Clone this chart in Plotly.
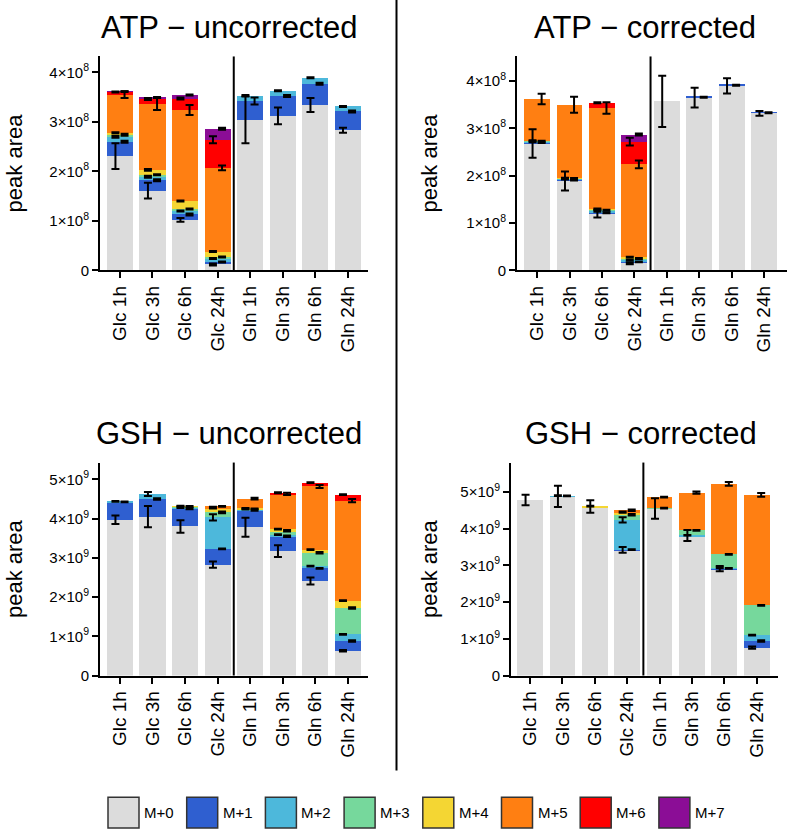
import numpy as np
import plotly.graph_objects as go

# ---------------- data ----------------
SAMPLES = ["Glc 1h", "Glc 3h", "Glc 6h", "Glc 24h", "Gln 1h", "Gln 3h", "Gln 6h", "Gln 24h"]
ISOTOPOLOGUES = ["M+0", "M+1", "M+2", "M+3", "M+4", "M+5", "M+6", "M+7"]
COLORS = ["#DCDCDC", "#2F5FD0", "#4DB8DB", "#76D89C", "#F4D633", "#FF7F12", "#FF0000", "#8B0D96"]

# rows = isotopologue (M+0..M+7), columns = samples; ATP in units of 1e8
ATP_UNCORR = [
    [2.31, 1.61, 1.02, 0.12, 3.04, 3.12, 3.34, 2.83],
    [0.29, 0.21, 0.11, 0.05, 0.38, 0.40, 0.43, 0.38],
    [0.10, 0.07, 0.07, 0.07, 0.11, 0.11, 0.12, 0.10],
    [0.04, 0.04, 0.04, 0.03, 0.00, 0.00, 0.00, 0.00],
    [0.04, 0.10, 0.16, 0.11, 0.00, 0.00, 0.00, 0.00],
    [0.77, 1.33, 1.84, 1.69, 0.00, 0.00, 0.00, 0.00],
    [0.05, 0.10, 0.23, 0.57, 0.00, 0.00, 0.00, 0.00],
    [0.01, 0.03, 0.07, 0.22, 0.00, 0.00, 0.00, 0.00],
]
ATP_UNCORR_ERR = [
    [0.26, 0.16, 0.04, 0.02, 0.47, 0.17, 0.14, 0.05],
    [0.02, 0.02, 0.02, 0.01, 0.07, 0.02, 0.02, 0.02],
    [0.02, 0.02, 0.01, 0.01, 0.01, 0.01, 0.01, 0.01],
    [0.02, 0.01, 0.01, 0.01, 0.00, 0.00, 0.00, 0.00],
    [0.01, 0.02, 0.01, 0.01, 0.00, 0.00, 0.00, 0.00],
    [0.07, 0.12, 0.10, 0.05, 0.00, 0.00, 0.00, 0.00],
    [0.01, 0.02, 0.02, 0.07, 0.00, 0.00, 0.00, 0.00],
    [0.01, 0.01, 0.01, 0.02, 0.00, 0.00, 0.00, 0.00],
]

ATP_CORR = [
    [2.68, 1.89, 1.20, 0.15, 3.57, 3.65, 3.90, 3.32],
    [0.02, 0.02, 0.02, 0.03, 0.00, 0.01, 0.01, 0.01],
    [0.02, 0.02, 0.03, 0.04, 0.00, 0.00, 0.00, 0.00],
    [0.01, 0.01, 0.02, 0.03, 0.00, 0.00, 0.00, 0.00],
    [0.01, 0.01, 0.03, 0.03, 0.00, 0.00, 0.00, 0.00],
    [0.88, 1.55, 2.13, 1.96, 0.00, 0.00, 0.00, 0.00],
    [0.00, 0.00, 0.11, 0.48, 0.00, 0.00, 0.00, 0.00],
    [0.00, 0.00, 0.00, 0.15, 0.00, 0.00, 0.00, 0.00],
]
ATP_CORR_ERR = [
    [0.30, 0.20, 0.08, 0.02, 0.54, 0.21, 0.16, 0.05],
    [0.01, 0.01, 0.01, 0.01, 0.00, 0.01, 0.01, 0.01],
    [0.01, 0.01, 0.01, 0.01, 0.00, 0.00, 0.00, 0.00],
    [0.01, 0.01, 0.01, 0.01, 0.00, 0.00, 0.00, 0.00],
    [0.01, 0.01, 0.01, 0.01, 0.00, 0.00, 0.00, 0.00],
    [0.11, 0.17, 0.12, 0.08, 0.00, 0.00, 0.00, 0.00],
    [0.00, 0.00, 0.01, 0.08, 0.00, 0.00, 0.00, 0.00],
    [0.00, 0.00, 0.00, 0.02, 0.00, 0.00, 0.00, 0.00],
]

# GSH in units of 1e9
GSH_UNCORR = [
    [3.97, 4.05, 3.80, 2.83, 3.78, 3.17, 2.41, 0.63],
    [0.46, 0.45, 0.46, 0.40, 0.44, 0.38, 0.32, 0.25],
    [0.01, 0.13, 0.03, 0.80, 0.02, 0.04, 0.06, 0.17],
    [0.00, 0.00, 0.02, 0.13, 0.01, 0.10, 0.34, 0.67],
    [0.00, 0.00, 0.01, 0.12, 0.01, 0.04, 0.08, 0.19],
    [0.00, 0.00, 0.00, 0.03, 0.25, 0.90, 1.61, 2.55],
    [0.00, 0.00, 0.00, 0.00, 0.00, 0.03, 0.10, 0.15],
    [0.00, 0.00, 0.00, 0.00, 0.00, 0.00, 0.00, 0.00],
]
GSH_UNCORR_ERR = [
    [0.11, 0.27, 0.16, 0.08, 0.24, 0.15, 0.09, 0.02],
    [0.01, 0.02, 0.02, 0.01, 0.02, 0.02, 0.01, 0.02],
    [0.01, 0.05, 0.02, 0.08, 0.01, 0.01, 0.01, 0.01],
    [0.00, 0.00, 0.01, 0.02, 0.01, 0.02, 0.02, 0.02],
    [0.00, 0.00, 0.01, 0.02, 0.01, 0.01, 0.01, 0.01],
    [0.00, 0.00, 0.00, 0.01, 0.02, 0.03, 0.04, 0.04],
    [0.00, 0.00, 0.00, 0.00, 0.00, 0.01, 0.01, 0.01],
    [0.00, 0.00, 0.00, 0.00, 0.00, 0.00, 0.00, 0.00],
]

GSH_CORR = [
    [4.78, 4.88, 4.60, 3.42, 4.55, 3.81, 2.91, 0.76],
    [0.00, 0.01, 0.00, 0.01, 0.00, 0.00, 0.01, 0.18],
    [0.00, 0.01, 0.00, 0.81, 0.00, 0.01, 0.01, 0.16],
    [0.00, 0.00, 0.00, 0.14, 0.01, 0.13, 0.37, 0.81],
    [0.00, 0.00, 0.01, 0.07, 0.00, 0.00, 0.00, 0.00],
    [0.00, 0.00, 0.00, 0.05, 0.30, 1.03, 1.92, 3.01],
    [0.00, 0.00, 0.00, 0.00, 0.00, 0.00, 0.00, 0.00],
    [0.00, 0.00, 0.00, 0.00, 0.00, 0.00, 0.00, 0.00],
]
GSH_CORR_ERR = [
    [0.14, 0.29, 0.17, 0.08, 0.28, 0.15, 0.07, 0.03],
    [0.00, 0.01, 0.00, 0.01, 0.00, 0.00, 0.01, 0.02],
    [0.00, 0.01, 0.00, 0.07, 0.00, 0.01, 0.01, 0.01],
    [0.00, 0.00, 0.00, 0.02, 0.01, 0.01, 0.01, 0.01],
    [0.00, 0.00, 0.01, 0.02, 0.00, 0.00, 0.00, 0.00],
    [0.00, 0.00, 0.00, 0.02, 0.01, 0.03, 0.05, 0.05],
    [0.00, 0.00, 0.00, 0.00, 0.00, 0.00, 0.00, 0.00],
    [0.00, 0.00, 0.00, 0.00, 0.00, 0.00, 0.00, 0.00],
]

TITLES = ["ATP − uncorrected", "ATP − corrected", "GSH − uncorrected", "GSH − corrected"]
SCALES = [1e8, 1e8, 1e9, 1e9]
EXPONENTS = [8, 8, 9, 9]
TICK_MULTIPLES = [[0, 1, 2, 3, 4], [0, 1, 2, 3, 4], [0, 1, 2, 3, 4, 5], [0, 1, 2, 3, 4, 5]]

# ---------------- layout geometry (pixels) ----------------
W, H = 787, 840
FONT = "Liberation Sans, Arial, Helvetica, sans-serif"
# (x_left, x_right, y_top, y_bottom) in px
PANEL_PX = [(100, 368, 57, 273), (517, 787, 57, 273), (100, 368, 467, 682), (511, 778, 467, 682)]
XRANGES = [(-0.615, 7.63), (-0.62, 7.71), (-0.615, 7.63), (-0.59, 7.66)]
YTOPS = [4.32, 4.52, 5.43, 5.80]
TITLE_X = [229, 645, 229, 641]
TITLE_Y = [27.5, 27.5, 437.5, 437.5]
YLAB_X = [14, 429, 14, 429]


def px(x):
    return x / W


def py(y):
    return 1 - y / H


fig = go.Figure()
idx = np.arange(len(SAMPLES))
datasets = [(ATP_UNCORR, ATP_UNCORR_ERR), (ATP_CORR, ATP_CORR_ERR),
            (GSH_UNCORR, GSH_UNCORR_ERR), (GSH_CORR, GSH_CORR_ERR)]

layout_axes = {}
shapes = []
annotations = []

for p, (vals, errs) in enumerate(datasets):
    vals = np.array(vals, dtype=float)
    errs = np.array(errs, dtype=float)
    scale = SCALES[p]
    xa = "x" if p == 0 else f"x{p+1}"
    ya = "y" if p == 0 else f"y{p+1}"
    cum = np.cumsum(vals, axis=0)
    for i, iso in enumerate(ISOTOPOLOGUES):
        fig.add_trace(go.Bar(
            x=idx, y=vals[i] * scale, name=iso, marker=dict(color=COLORS[i], line=dict(width=0)),
            width=0.8, xaxis=xa, yaxis=ya, showlegend=False,
        ))
    for i, iso in enumerate(ISOTOPOLOGUES):
        mask = vals[i] > 0
        if not mask.any():
            continue
        off = -0.14 if i % 2 == 0 else 0.14
        fig.add_trace(go.Scatter(
            x=idx[mask] + off, y=cum[i][mask] * scale, mode="markers",
            marker=dict(size=1, color="rgba(0,0,0,0)"),
            error_y=dict(type="data", array=errs[i][mask] * scale, visible=True,
                         color="black", thickness=2, width=4),
            xaxis=xa, yaxis=ya, showlegend=False, hoverinfo="skip",
        ))

    x0, x1, y0, y1 = PANEL_PX[p]
    xkey = "xaxis" if p == 0 else f"xaxis{p+1}"
    ykey = "yaxis" if p == 0 else f"yaxis{p+1}"
    tickvals = [m * scale for m in TICK_MULTIPLES[p]]
    ticktext = ["0" if m == 0 else f"{m}×10<sup>{EXPONENTS[p]}</sup>" for m in TICK_MULTIPLES[p]]
    layout_axes[xkey] = dict(
        domain=[px(x0), px(x1)], anchor=ya, range=list(XRANGES[p]),
        tickvals=list(idx), ticktext=SAMPLES, tickangle=-90,
        showline=True, linecolor="black", linewidth=2, ticks="outside", ticklen=6,
        tickwidth=2, tickcolor="black", showgrid=False, zeroline=False,
        tickfont=dict(family=FONT, size=19, color="black"),
    )
    layout_axes[ykey] = dict(
        domain=[py(y1), py(y0)], anchor=xa, range=[0, YTOPS[p] * scale],
        tickvals=tickvals, ticktext=ticktext,
        showline=True, linecolor="black", linewidth=2, ticks="outside", ticklen=6,
        tickwidth=2, tickcolor="black", showgrid=False, zeroline=False,
        tickfont=dict(family=FONT, size=15, color="black"),
    )
    # divider between Glc and Gln groups
    shapes.append(dict(type="line", xref=xa, yref=f"{ya} domain", x0=3.5, x1=3.5, y0=0, y1=1,
                       line=dict(color="black", width=2)))
    annotations.append(dict(text=TITLES[p], x=px(TITLE_X[p]), y=py(TITLE_Y[p]), xref="paper", yref="paper",
                            xanchor="center", yanchor="middle", showarrow=False,
                            font=dict(family=FONT, size=31, color="black")))
    annotations.append(dict(text="peak area", x=px(YLAB_X[p]), y=py((y0 + y1) / 2), xref="paper", yref="paper",
                            xanchor="center", yanchor="middle", showarrow=False, textangle=-90,
                            font=dict(family=FONT, size=22, color="black")))

# vertical separator between columns
shapes.append(dict(type="line", xref="paper", yref="paper", x0=px(396.5), x1=px(396.5),
                   y0=py(778), y1=1, line=dict(color="black", width=2)))

# legend (manual, large keys)
LEG_X0, LEG_STEP, LEG_BOX, LEG_Y0, LEG_Y1 = 108, 78.7, 31, 805, 836
for i, iso in enumerate(ISOTOPOLOGUES):
    bx = LEG_X0 + i * LEG_STEP
    shapes.append(dict(type="rect", xref="paper", yref="paper",
                       x0=px(bx), x1=px(bx + LEG_BOX), y0=py(LEG_Y1), y1=py(LEG_Y0),
                       fillcolor=COLORS[i], line=dict(color="#333333", width=1.5)))
    annotations.append(dict(text=iso, x=px(bx + LEG_BOX + 3), y=py((LEG_Y0 + LEG_Y1) / 2),
                            xref="paper", yref="paper", xanchor="left", yanchor="middle",
                            showarrow=False, font=dict(family=FONT, size=15, color="black")))

fig.update_layout(
    width=W, height=H, margin=dict(l=0, r=0, t=0, b=0),
    paper_bgcolor="white", plot_bgcolor="white",
    barmode="stack", bargap=0.2, showlegend=False,
    shapes=shapes, annotations=annotations,
    font=dict(family=FONT, color="black"),
    **layout_axes,
)

fig.write_html("out.html", config={"displayModeBar": False},
               post_script="document.body.style.margin='0px';document.body.style.overflow='hidden';")
